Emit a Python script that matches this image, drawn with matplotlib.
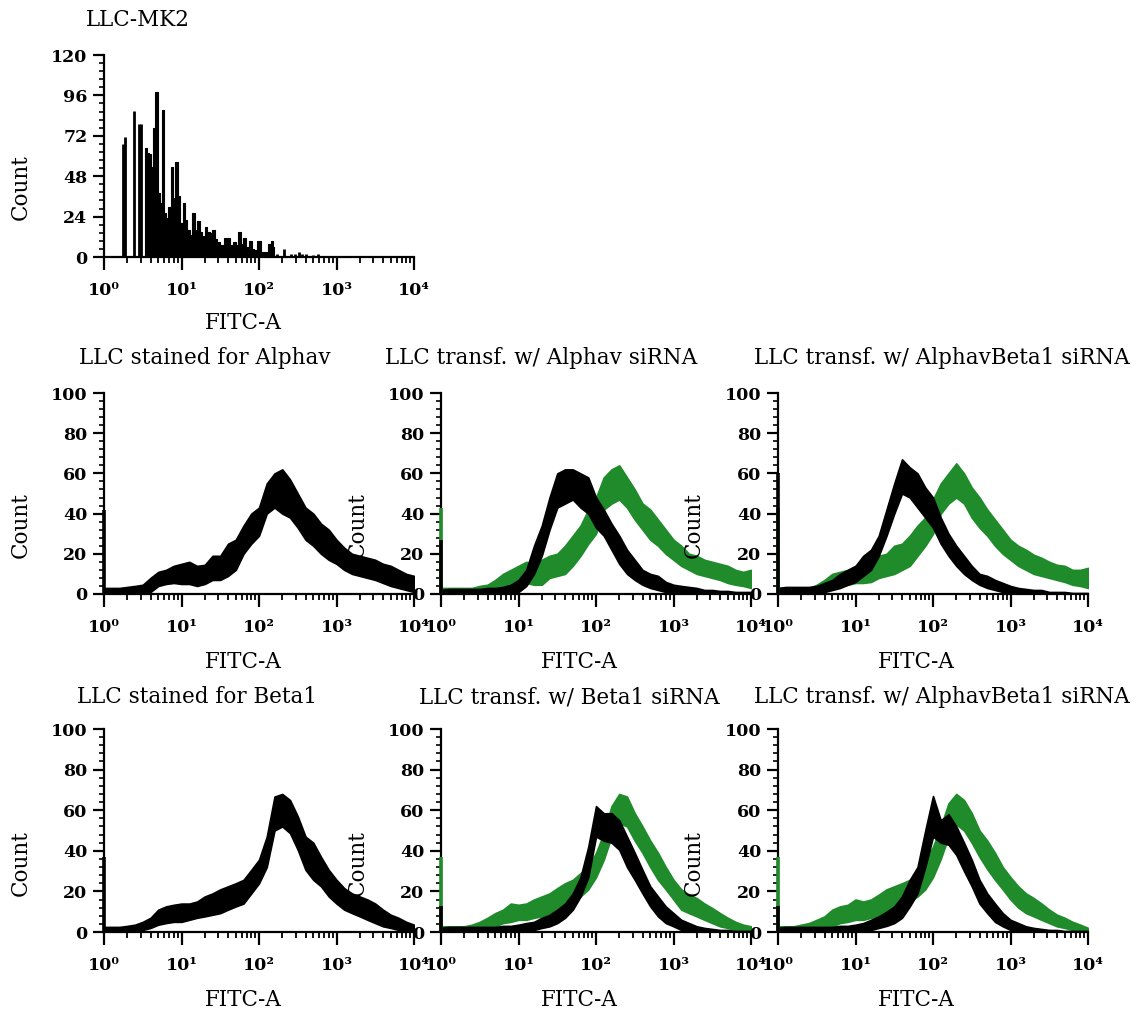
#!/usr/bin/env python3
"""FITC-A histograms: LLC-MK2 stained for Alphav / Beta1 and siRNA knockdowns."""

import matplotlib

matplotlib.use("Agg")
import matplotlib.pyplot as plt
import numpy as np
from matplotlib.ticker import FixedLocator, LogLocator, MultipleLocator, NullFormatter

W, H = 1143, 1013
GREEN = "#1f8b2b"

DECADE_TICKS = [1, 10, 100, 1000, 10000]
DECADE_LABELS = ["10⁰", "10¹", "10²", "10³", "10⁴"]

# log10(FITC-A) positions where the band was read, every 0.1 decade
DECADES = np.linspace(0.0, 4.0, 41)

MK2_SPARSE_LOG = [0.24, 0.27, 0.385, 0.45, 0.48, 2.235, 2.32, 2.407, 2.46, 2.52, 2.55, 2.61, 2.70, 2.76]
MK2_SPARSE_COUNT = [67, 71, 87, 79, 79, 2, 4.8, 2, 2, 3, 2, 2, 1.2, 2]
MK2_DENSE_LOG = [
    0.535, 0.565, 0.595, 0.621, 0.651, 0.677, 0.707, 0.737, 0.767, 0.792,
    0.814, 0.848, 0.874, 0.904, 0.938, 0.968, 0.998, 1.028, 1.062, 1.092,
    1.122, 1.16, 1.19, 1.22, 1.25, 1.285, 1.32, 1.35, 1.383, 1.413,
    1.448, 1.477, 1.52, 1.563, 1.606, 1.65, 1.68, 1.713, 1.747, 1.777,
    1.82, 1.846, 1.893, 1.92, 1.953, 2.0, 2.047, 2.09, 2.133, 2.167, 2.19,
]
MK2_DENSE_COUNT = [
    64.5, 61.6, 61, 53.7, 76.4, 97.8, 37.8, 32, 87.3, 26,
    23, 30, 53.7, 35, 56.6, 36.4, 20, 32.3, 22, 16,
    13, 26, 16, 21.6, 15, 12.5, 18, 15, 14, 16,
    10.7, 9, 7, 11.5, 11, 7, 9, 7, 15, 8,
    11, 6, 9.5, 5, 4, 9.7, 3, 3, 7.5, 9.5, 6,
]

# --- middle row: Alphav ---
ALPHAV_STAIN_HI = [3, 3, 3, 3.5, 4, 4.6, 8, 11, 12, 14,
                   15, 16, 14, 14.5, 19, 19, 25, 27, 34, 40,
                   43, 55, 60, 62, 57, 50, 43, 40, 35, 32,
                   27, 23, 20, 19, 18, 17, 15, 14, 12, 10, 9]
ALPHAV_STAIN_LO = [0, 0, 0, 0, 0, 0, 1, 4, 5, 5.5,
                   5, 5, 4, 5, 7, 7, 9, 12, 20, 25,
                   29, 40, 43, 40, 38, 33, 27, 24, 20, 17,
                   15, 12, 10, 9, 8, 7, 5.5, 4, 3, 2, 1]
ALPHAV_STAIN_SPIKE = 42

ALPHAV_SI_BLACK_HI = [2, 2.5, 2.5, 2.5, 2.5, 2.5, 3, 3, 3.5, 4.6,
                      7, 12, 24, 34, 48, 60, 62, 62, 60, 58,
                      48, 42, 35, 29, 22, 17, 12, 10, 9, 6,
                      4.6, 4, 3.5, 3, 2, 2, 1.5, 1.5, 1, 1, 1]
ALPHAV_SI_BLACK_LO = [0, 0, 0, 0, 0, 0, 0, 0, 0, 0,
                      1, 4, 10, 19, 32, 43, 45, 47, 43, 40,
                      33, 29, 22, 15, 10, 7, 4.6, 3, 2, 1,
                      0, 0, 0, 0, 0, 0, 0, 0, 0, 0, 0]
ALPHAV_SI_GREEN_HI = [3, 3, 3, 3, 3, 4, 4.6, 7, 10, 12,
                      14, 16, 15, 17, 19, 20, 24, 29, 34, 42,
                      48, 58, 62, 64, 58, 52, 45, 42, 37, 32,
                      27, 24, 20, 19, 17, 16, 15, 14, 12, 11, 12]
ALPHAV_SI_GREEN_LO = [0, 0, 0, 0, 0, 0, 0, 1, 3, 4,
                      5.5, 5.5, 4.6, 4.6, 8, 9, 10, 14, 19, 25,
                      30, 42, 45, 47, 43, 37, 32, 27, 24, 20,
                      17, 14, 12, 10, 9, 8, 7, 5.5, 4.6, 4, 3]
ALPHAV_SI_SPIKES = (27, 43)  # black, green at 10^0

AVB1_A_BLACK_HI = [3, 3.5, 3.5, 3.5, 3.5, 4, 5.5, 7, 10, 12,
                   14, 19, 22, 29, 42, 55, 67, 63, 60, 53,
                   48, 38, 30, 24, 19, 14, 10, 9, 7, 5.5,
                   4, 3, 2.5, 2, 2, 1, 1, 1, 0.5, 0.5, 0.5]
AVB1_A_BLACK_LO = [0, 0, 0, 0, 0, 0, 1, 2, 3, 4.6,
                   6, 9, 12, 19, 29, 40, 50, 48, 43, 38,
                   33, 25, 19, 14, 10, 7, 4.6, 3, 2, 1,
                   0, 0, 0, 0, 0, 0, 0, 0, 0, 0, 0]
AVB1_A_GREEN_HI = [3, 3, 3, 3, 3, 4.6, 7, 10, 11, 12,
                   14, 15, 17, 19, 20, 24, 25, 29, 34, 38,
                   47, 55, 60, 65, 60, 53, 48, 42, 37, 32,
                   27, 24, 22, 19.5, 18, 16, 14.5, 14, 12, 12, 13]
AVB1_A_GREEN_LO = [0, 0, 0, 0, 0, 0, 2, 3, 4, 4.6,
                   5.5, 5.5, 6, 8, 9, 10, 12, 14, 19, 24,
                   30, 40, 45, 48, 45, 38, 33, 29, 24, 20,
                   17, 14, 12, 10, 9, 8, 7, 6, 4.6, 4, 3]
AVB1_A_SPIKES = (60, 43)

# --- bottom row: Beta1 ---
BETA1_STAIN_HI = [2.5, 2.5, 2.5, 3, 3.6, 5, 7, 11, 12.6, 13.4,
                  14, 14, 15, 17.5, 19, 21, 22.5, 24, 25.7, 30.6,
                  35.6, 47, 66.7, 68, 65, 57, 47, 44, 37, 30.6,
                  25.7, 21.6, 19, 17.5, 16, 14, 11, 8.5, 7, 5, 3.6]
BETA1_STAIN_LO = [0, 0, 0, 0, 0, 1, 2, 3.6, 4.4, 5,
                  5, 6, 7, 7.7, 8.5, 9.3, 11, 12.6, 14, 19,
                  24, 32, 50, 52, 48.7, 40.5, 30.6, 25.7, 22.5, 17.5,
                  14, 11, 9.3, 7.7, 6, 4.4, 2.8, 2, 1, 0, 0]
BETA1_STAIN_SPIKE = 37

BETA1_SI_BLACK_HI = [2, 2.5, 2.5, 2.5, 2.5, 2.5, 2.5, 2.5, 3, 3,
                     3.6, 4.4, 5, 7, 8.5, 11, 14, 19, 27, 42,
                     62, 58.5, 58.5, 55, 47, 39, 30.6, 22.5, 17.5, 12.6,
                     9.3, 6, 4.4, 2.8, 2, 1.5, 1, 1, 0.5, 0.5, 0.5]
BETA1_SI_BLACK_LO = [0, 0, 0, 0, 0, 0, 0, 0, 0, 0,
                     0, 0.3, 1, 2, 2.8, 4.4, 7, 11, 17.5, 27,
                     47, 45, 44, 40.5, 32, 25.7, 19, 12.6, 7.7, 4.4,
                     2.8, 1, 0, 0, 0, 0, 0, 0, 0, 0, 0]
BETA1_SI_GREEN_HI = [2.8, 2.8, 2.8, 2.8, 3.6, 5, 7, 9.3, 11, 14,
                     13.4, 14, 16, 17.5, 19, 21.6, 24, 25.7, 29, 32,
                     39, 48.7, 62, 68, 66.7, 58.5, 52, 45, 39, 32,
                     25.7, 21, 18.4, 16.7, 14, 11.8, 9.3, 7, 5, 3.6, 2.8]
BETA1_SI_GREEN_LO = [0, 0, 0, 0, 0, 1, 2, 2.8, 4.4, 5,
                     6, 6, 7, 7.7, 9.3, 11, 13.4, 15, 17.5, 21,
                     27, 35.6, 47, 53.6, 52, 45, 39, 32, 25.7, 21,
                     16, 11, 9.3, 7.7, 6, 4.4, 2.8, 2, 1, 0, 0]
BETA1_SI_SPIKES = (12.6, 37)

AVB1_B_BLACK_HI = [2, 2.5, 2.5, 2.5, 2.5, 2.5, 2.5, 2.5, 3, 3,
                   3.6, 4.4, 6, 7.7, 10, 12.6, 17.5, 25.7, 32, 50,
                   67, 55, 58, 52, 44, 35.6, 25.7, 19, 14, 9.3,
                   6, 4.4, 2.8, 2, 1.5, 1, 1, 0.5, 0.5, 0.5, 0.5]
AVB1_B_BLACK_LO = [0, 0, 0, 0, 0, 0, 0, 0, 0, 0,
                   0, 0.3, 1, 2, 3, 4.4, 7, 12.6, 19, 32,
                   47, 44, 43, 38, 30, 22.5, 14, 9.3, 5, 2.8,
                   1, 0, 0, 0, 0, 0, 0, 0, 0, 0, 0]
AVB1_B_GREEN_HI = [2.8, 2.8, 2.8, 3.6, 4.4, 6, 7.7, 11, 12.6, 13.4,
                   16, 15, 16, 18.4, 21, 22.5, 24, 25.7, 29, 35.6,
                   42, 52, 63.4, 68, 65, 58.5, 50, 45, 39, 32,
                   27, 22.5, 19, 16.7, 14, 11, 8.5, 7, 5, 3.6, 2]
AVB1_B_GREEN_LO = [0, 0, 0, 0, 0, 1, 2, 2.8, 4.4, 5,
                   6, 6, 7, 7.7, 9.3, 11, 13.4, 15, 17.5, 21,
                   27, 36, 47, 53, 50, 44, 37, 31, 25.7, 21,
                   16, 12, 9.3, 7.7, 6, 4.4, 2.8, 2, 1, 0, 0]
AVB1_B_SPIKES = (12.6, 37)

SERIF = ["DejaVu Serif"]


def fx(px: float) -> float:
    return px / W


def fy(py: float) -> float:
    return 1 - py / H


def style_axes(ax, ymax: float, ystep: float, yminor: float) -> None:
    ax.set_xscale("log")
    ax.set_xlim(1, 1e4)
    ax.set_ylim(0, ymax)
    ax.set_facecolor("none")
    for side in ("top", "right"):
        ax.spines[side].set_visible(False)
    for side in ("left", "bottom"):
        ax.spines[side].set_linewidth(1.6)
    ax.xaxis.set_major_locator(FixedLocator(DECADE_TICKS))
    ax.set_xticklabels(DECADE_LABELS)
    ax.xaxis.set_minor_locator(LogLocator(base=10, subs=np.arange(2, 10), numticks=20))
    ax.xaxis.set_minor_formatter(NullFormatter())
    ax.yaxis.set_major_locator(MultipleLocator(ystep))
    ax.yaxis.set_minor_locator(MultipleLocator(yminor))
    ax.tick_params(axis="x", which="major", direction="out", length=9, width=1.6, pad=9)
    ax.tick_params(axis="x", which="minor", direction="out", length=4.5, width=1.3)
    ax.tick_params(axis="y", which="major", direction="out", length=8, width=1.6, pad=4)
    ax.tick_params(axis="y", which="minor", direction="out", length=3.5, width=1.2)
    for lab in ax.get_xticklabels() + ax.get_yticklabels():
        lab.set_fontfamily(SERIF)
        lab.set_fontweight("bold")
        lab.set_fontsize(12.5)


def draw_band(ax, lo, hi, color, spike) -> None:
    x = 10 ** DECADES
    ax.fill_between(x, lo, hi, color=color, lw=1.2, edgecolor=color, zorder=2)
    ax.vlines(1, 0, spike, color=color, lw=2.6, zorder=4, clip_on=False)


def add_labels(fig, title, title_cx, title_cy, count_cx, count_cy, fitc_cx, fitc_cy) -> None:
    fig.text(fx(title_cx), fy(title_cy), title, ha="center", va="center", fontsize=15.5, family=SERIF)
    fig.text(fx(count_cx), fy(count_cy), "Count", ha="center", va="center", rotation=90,
             fontsize=15.5, family=SERIF)
    fig.text(fx(fitc_cx), fy(fitc_cy), "FITC-A", ha="center", va="center", fontsize=15.5, family=SERIF)


def main() -> int:
    plt.rcParams["font.family"] = SERIF
    fig = plt.figure(figsize=(W / 100, H / 100), dpi=100)
    fig.patch.set_facecolor("white")

    col_left = [104, 441, 778]
    col_width = 310
    # (zero line, top line) pixel rows for each row of panels
    rows = {"top": (257, 55), "mid": (594, 393), "bot": (932, 729)}

    def make_ax(col, row):
        y0, y1 = rows[row]
        return fig.add_axes([fx(col_left[col]), fy(y0), col_width / W, (y0 - y1) / H])

    # top panel: LLC-MK2
    ax = make_ax(0, "top")
    ax.fill_between(10 ** np.array(MK2_DENSE_LOG), 0, MK2_DENSE_COUNT, step="mid",
                    color="black", lw=0.8, edgecolor="black", zorder=2)
    ax.vlines(10 ** np.array(MK2_SPARSE_LOG), 0, MK2_SPARSE_COUNT, color="black", lw=2.0, zorder=2)
    style_axes(ax, 120, 24, 4.8)
    add_labels(fig, "LLC-MK2", 138, 20, 21, 187, 243, 323)

    mid_panels = [
        ("LLC stained for Alphav", 205, [("black", ALPHAV_STAIN_LO, ALPHAV_STAIN_HI, ALPHAV_STAIN_SPIKE)]),
        ("LLC transf. w/ Alphav siRNA", 541, [
            (GREEN, ALPHAV_SI_GREEN_LO, ALPHAV_SI_GREEN_HI, ALPHAV_SI_SPIKES[1]),
            ("black", ALPHAV_SI_BLACK_LO, ALPHAV_SI_BLACK_HI, ALPHAV_SI_SPIKES[0]),
        ]),
        ("LLC transf. w/ AlphavBeta1 siRNA", 942, [
            (GREEN, AVB1_A_GREEN_LO, AVB1_A_GREEN_HI, AVB1_A_SPIKES[1]),
            ("black", AVB1_A_BLACK_LO, AVB1_A_BLACK_HI, AVB1_A_SPIKES[0]),
        ]),
    ]
    bot_panels = [
        ("LLC stained for Beta1", 197, [("black", BETA1_STAIN_LO, BETA1_STAIN_HI, BETA1_STAIN_SPIKE)]),
        ("LLC transf. w/ Beta1 siRNA", 569, [
            (GREEN, BETA1_SI_GREEN_LO, BETA1_SI_GREEN_HI, BETA1_SI_SPIKES[1]),
            ("black", BETA1_SI_BLACK_LO, BETA1_SI_BLACK_HI, BETA1_SI_SPIKES[0]),
        ]),
        ("LLC transf. w/ AlphavBeta1 siRNA", 942, [
            (GREEN, AVB1_B_GREEN_LO, AVB1_B_GREEN_HI, AVB1_B_SPIKES[1]),
            ("black", AVB1_B_BLACK_LO, AVB1_B_BLACK_HI, AVB1_B_SPIKES[0]),
        ]),
    ]
    count_x = [21, 358, 694]
    fitc_x = [243, 579, 916]

    for row, panels, title_y, count_y, fitc_y in (
        ("mid", mid_panels, 358, 525, 662),
        ("bot", bot_panels, 697, 863, 1000),
    ):
        for col, (title, title_x, curves) in enumerate(panels):
            ax = make_ax(col, row)
            # draw right-to-left column order does not matter; curves keep listed order
            for color, lo, hi, spike in curves:
                draw_band(ax, lo, hi, color, spike)
            style_axes(ax, 100, 20, 4)
            add_labels(fig, title, title_x, title_y, count_x[col], count_y, fitc_x[col], fitc_y)

    fig.savefig("out.png", dpi=100, facecolor="white")
    plt.close(fig)
    return 0


if __name__ == "__main__":
    raise SystemExit(main())
